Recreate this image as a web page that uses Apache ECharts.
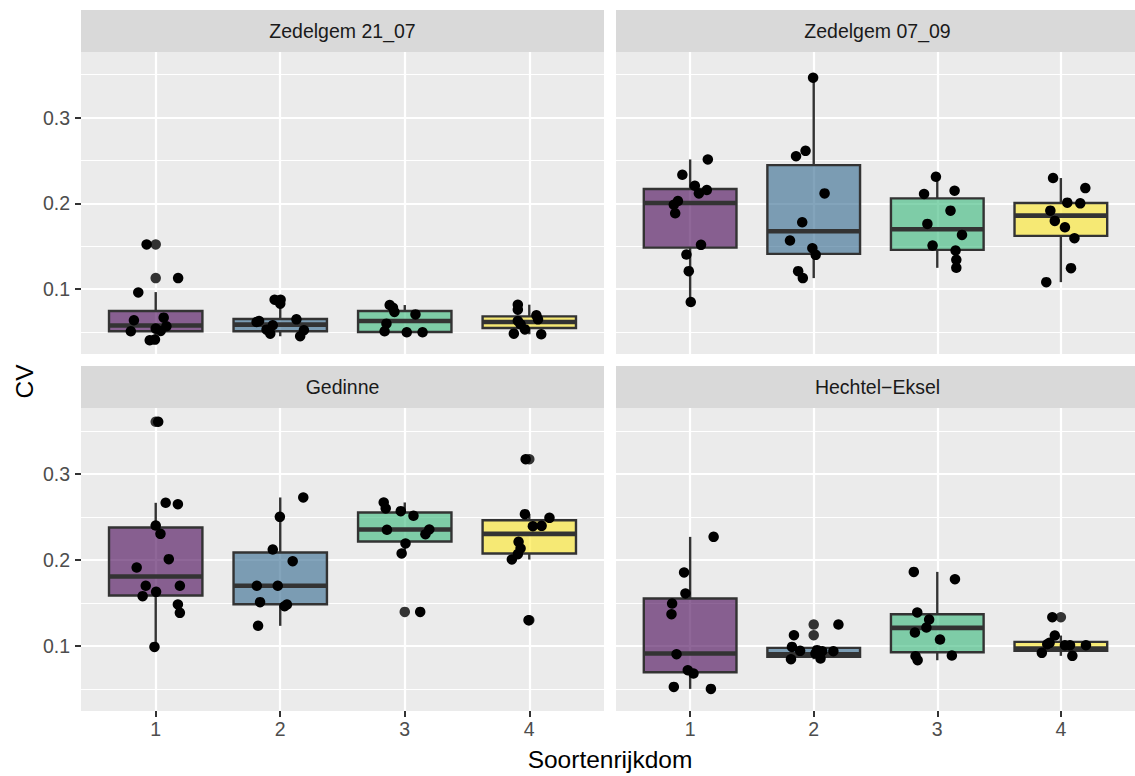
<!DOCTYPE html>
<html>
<head>
<meta charset="utf-8">
<title>CV per soortenrijkdom</title>
<script src="https://cdn.jsdelivr.net/npm/echarts@6/dist/echarts.min.js"></script>
<style>
  html, body { margin: 0; padding: 0; background: #ffffff; }
  #chart { width: 1135px; height: 776px; }
</style>
</head>
<body>
<div id="chart"></div>
<script>
// ---- data -------------------------------------------------------------
const categories = [1, 2, 3, 4];
const panelNames = ['Zedelgem 21_07', 'Zedelgem 07_09', 'Gedinne', 'Hechtel\u2212Eksel'];
const yTicks = [0.1, 0.2, 0.3];
const yMinorTicks = [0.05, 0.15, 0.25, 0.35];
const xTitle = 'Soortenrijkdom';
const yTitle = 'CV';

// box summaries per richness level: [lower whisker, Q1, median, Q3, upper whisker]
const boxZedelgem2107 = [
  [0.0403, 0.0508, 0.0575, 0.0744, 0.0965],
  [0.0450, 0.0508, 0.0585, 0.0651, 0.0876],
  [0.0496, 0.0500, 0.0628, 0.0744, 0.0814],
  [0.0473, 0.0547, 0.0616, 0.0682, 0.0818]
];
const boxZedelgem0709 = [
  [0.0849, 0.1484, 0.2004, 0.2167, 0.2512],
  [0.1128, 0.1411, 0.1674, 0.2446, 0.3465],
  [0.1248, 0.1457, 0.1698, 0.2058, 0.2310],
  [0.1081, 0.1620, 0.1857, 0.2004, 0.2295]
];
const boxGedinne = [
  [0.0988, 0.1585, 0.1806, 0.2376, 0.2663],
  [0.1233, 0.1484, 0.1698, 0.2085, 0.2725],
  [0.2074, 0.2213, 0.2353, 0.2550, 0.2667],
  [0.2004, 0.2074, 0.2302, 0.2461, 0.2531]
];
const boxHechtelEksel = [
  [0.0500, 0.0694, 0.0911, 0.1550, 0.2267],
  [0.0845, 0.0872, 0.0903, 0.0977, 0.0988],
  [0.0833, 0.0926, 0.1209, 0.1368, 0.1860],
  [0.0884, 0.0942, 0.0969, 0.1047, 0.1120]
];

// boxplot outliers: [richness, CV]
const outliersZedelgem2107 = [[1, 0.1520], [1, 0.1128]];
const outliersZedelgem0709 = [];
const outliersGedinne = [[1, 0.3605], [3, 0.1395], [4, 0.3170], [4, 0.1298]];
const outliersHechtelEksel = [[2, 0.1248], [2, 0.1124], [4, 0.1333]];

// jittered observations: [jittered richness, CV]
const pointsZedelgem2107 = [
  [0.927, 0.1520], [1.180, 0.1128], [0.860, 0.0961], [0.825, 0.0636], [1.064, 0.0667],
  [1.000, 0.0539], [1.086, 0.0566], [1.040, 0.0512], [0.800, 0.0508], [0.952, 0.0403],
  [0.994, 0.0411],
  [1.955, 0.0876], [2.003, 0.0876], [2.000, 0.0830], [1.810, 0.0616], [1.830, 0.0628],
  [1.940, 0.0578], [2.130, 0.0647], [1.890, 0.0527], [1.920, 0.0480], [2.190, 0.0520],
  [2.160, 0.0450],
  [2.879, 0.0814], [2.905, 0.0783], [2.917, 0.0733], [3.086, 0.0705], [2.853, 0.0597],
  [2.838, 0.0508], [3.016, 0.0496], [3.143, 0.0496],
  [3.908, 0.0818], [3.908, 0.0760], [4.057, 0.0694], [4.070, 0.0647], [3.908, 0.0628],
  [3.930, 0.0589], [3.965, 0.0530], [3.876, 0.0480], [4.096, 0.0473]
];
const pointsZedelgem0709 = [
  [1.143, 0.2512], [0.937, 0.2333], [1.038, 0.2205], [1.135, 0.2155], [1.071, 0.2116],
  [0.901, 0.2027], [0.868, 0.1984], [0.879, 0.1884], [1.088, 0.1516], [0.970, 0.1403],
  [0.989, 0.1209], [1.005, 0.0849],
  [1.995, 0.3465], [1.857, 0.2550], [1.934, 0.2612], [2.088, 0.2116], [1.907, 0.1779],
  [1.808, 0.1566], [1.989, 0.1477], [2.016, 0.1399], [1.874, 0.1209], [1.912, 0.1128],
  [2.989, 0.2310], [2.893, 0.2109], [3.140, 0.2147], [3.107, 0.1915], [2.920, 0.1760],
  [3.200, 0.1632], [2.962, 0.1508], [3.148, 0.1450], [3.154, 0.1341], [3.154, 0.1248],
  [3.937, 0.2295], [4.198, 0.2178], [4.052, 0.2008], [4.157, 0.2000], [3.915, 0.1915],
  [3.951, 0.1795], [4.033, 0.1721], [4.110, 0.1593], [4.082, 0.1244], [3.882, 0.1081]
];
const pointsGedinne = [
  [1.020, 0.3605], [1.080, 0.2663], [1.178, 0.2647], [1.000, 0.2399], [1.038, 0.2302],
  [1.105, 0.2008], [0.847, 0.1911], [0.920, 0.1698], [1.194, 0.1698], [1.003, 0.1628],
  [0.895, 0.1578], [1.178, 0.1481], [1.194, 0.1384], [0.990, 0.0988],
  [2.185, 0.2725], [1.997, 0.2500], [1.940, 0.2120], [2.100, 0.1984], [1.812, 0.1698],
  [1.980, 0.1698], [1.838, 0.1508], [2.035, 0.1461], [2.054, 0.1480], [1.822, 0.1233],
  [2.831, 0.2667], [2.847, 0.2597], [2.968, 0.2566], [3.070, 0.2512], [2.857, 0.2349],
  [3.197, 0.2353], [3.166, 0.2298], [3.006, 0.2190], [2.975, 0.2074], [3.124, 0.1395],
  [3.971, 0.3170], [3.965, 0.2531], [4.162, 0.2488], [4.029, 0.2391], [4.099, 0.2395],
  [3.914, 0.2209], [3.930, 0.2132], [3.908, 0.2066], [3.860, 0.2004], [3.994, 0.1298]
];
const pointsHechtelEksel = [
  [1.190, 0.2267], [0.951, 0.1853], [0.962, 0.1609], [0.854, 0.1492], [0.849, 0.1368],
  [0.890, 0.0903], [0.981, 0.0717], [1.027, 0.0678], [0.868, 0.0523], [1.168, 0.0500],
  [2.200, 0.1248], [1.840, 0.1124], [1.824, 0.0988], [1.890, 0.0942], [2.027, 0.0950],
  [2.069, 0.0938], [2.159, 0.0938], [1.816, 0.0845], [2.055, 0.0853], [2.014, 0.0911],
  [2.810, 0.1860], [3.143, 0.1775], [2.838, 0.1388], [2.934, 0.1306], [2.912, 0.1213],
  [2.819, 0.1155], [3.022, 0.1074], [2.824, 0.0880], [2.841, 0.0833], [3.118, 0.0888],
  [3.931, 0.1333], [3.951, 0.1120], [3.909, 0.1035], [3.890, 0.1019], [4.033, 0.1008],
  [4.074, 0.1008], [4.203, 0.1008], [3.846, 0.0919], [4.093, 0.0884]
];

// ---- layout & style ---------------------------------------------------
const panels = [
  { name: panelNames[0], boxes: boxZedelgem2107, points: pointsZedelgem2107, outliers: outliersZedelgem2107 },
  { name: panelNames[1], boxes: boxZedelgem0709, points: pointsZedelgem0709, outliers: outliersZedelgem0709 },
  { name: panelNames[2], boxes: boxGedinne, points: pointsGedinne, outliers: outliersGedinne },
  { name: panelNames[3], boxes: boxHechtelEksel, points: pointsHechtelEksel, outliers: outliersHechtelEksel }
];
const FONT = '"Liberation Sans", Arial, Helvetica, sans-serif';
const fills = ['rgba(68,1,84,0.6)', 'rgba(49,104,142,0.6)', 'rgba(53,183,121,0.6)', 'rgba(253,231,37,0.6)'];
const frames = [
  { left: 81, top: 52, width: 523, height: 302 },
  { left: 616, top: 52, width: 523, height: 302 },
  { left: 81, top: 408, width: 523, height: 303 },
  { left: 616, top: 408, width: 523, height: 303 }
];
const STRIP_H = 42;

// y range: data range expanded by 5% on both sides
const allY = [];
panels.forEach(p => {
  p.points.forEach(d => allY.push(d[1]));
  p.outliers.forEach(d => allY.push(d[1]));
});
const yLo = Math.min(...allY), yHi = Math.max(...allY);
const yPad = (yHi - yLo) * 0.05;
const Y_MIN = yLo - yPad, Y_MAX = yHi + yPad;
const X_MIN = 0.4, X_MAX = 4.6;

const grids = [], xAxes = [], yAxes = [], series = [], graphics = [];

panels.forEach((p, i) => {
  const f = frames[i];
  const isLeft = i % 2 === 0;
  const isBottom = i >= 2;
  grids.push({
    left: f.left, top: f.top, width: f.width, height: f.height,
    show: true, backgroundColor: '#EBEBEB', borderWidth: 0, containLabel: false
  });
  xAxes.push({
    type: 'value', gridIndex: i, min: X_MIN, max: X_MAX,
    axisLine: { show: false },
    axisTick: { show: isBottom, customValues: categories, length: 6, lineStyle: { color: '#333333', width: 2 } },
    axisLabel: {
      show: isBottom, customValues: categories, margin: 8,
      color: '#4D4D4D', fontSize: 19.5, fontFamily: FONT,
      formatter: v => String(Math.round(v))
    },
    splitLine: { show: true, lineStyle: { color: '#FFFFFF', width: 2.2 } }
  });
  // major y axis
  yAxes.push({
    type: 'value', gridIndex: i, min: Y_MIN, max: Y_MAX, position: 'left',
    axisLine: { show: false },
    axisTick: { show: isLeft, customValues: yTicks, length: 6, lineStyle: { color: '#333333', width: 2 } },
    axisLabel: {
      show: isLeft, customValues: yTicks, margin: 11,
      color: '#4D4D4D', fontSize: 19.5, fontFamily: FONT,
      formatter: v => v.toFixed(1)
    },
    splitLine: { show: true, lineStyle: { color: '#FFFFFF', width: 2.2 } }
  });
  // minor y grid lines
  yAxes.push({
    type: 'value', gridIndex: i, min: Y_MIN, max: Y_MAX, position: 'left',
    axisLine: { show: false },
    axisTick: { show: false, customValues: yMinorTicks },
    axisLabel: { show: false, customValues: yMinorTicks },
    splitLine: { show: true, lineStyle: { color: '#FFFFFF', width: 1.1 } }
  });

  const boxData = p.boxes.map((b, k) => [categories[k]].concat(b));
  series.push({
    type: 'custom', xAxisIndex: i, yAxisIndex: 2 * i, z: 2,
    data: boxData,
    encode: { x: 0, y: [1, 2, 3, 4, 5] },
    renderItem: (params, api) => {
      const x = api.value(0);
      const lo = api.value(1), q1 = api.value(2), med = api.value(3), q3 = api.value(4), hi = api.value(5);
      const half = 0.375;
      const tl = api.coord([x - half, q3]);
      const br = api.coord([x + half, q1]);
      const m = api.coord([x, med]);
      const pLo = api.coord([x, lo]);
      const pHi = api.coord([x, hi]);
      const stroke = '#333333';
      return {
        type: 'group',
        children: [
          { type: 'line', shape: { x1: pHi[0], y1: pHi[1], x2: pHi[0], y2: tl[1] }, style: { stroke, lineWidth: 2.4 } },
          { type: 'line', shape: { x1: pLo[0], y1: br[1], x2: pLo[0], y2: pLo[1] }, style: { stroke, lineWidth: 2.4 } },
          { type: 'rect', shape: { x: tl[0], y: tl[1], width: br[0] - tl[0], height: br[1] - tl[1] },
            style: { fill: fills[params.dataIndex], stroke, lineWidth: 2.4 } },
          { type: 'line', shape: { x1: tl[0], y1: m[1], x2: br[0], y2: m[1] }, style: { stroke, lineWidth: 4.6 } }
        ]
      };
    }
  });
  series.push({
    type: 'scatter', xAxisIndex: i, yAxisIndex: 2 * i, z: 3,
    data: p.outliers, symbolSize: 10.5,
    itemStyle: { color: '#333333', opacity: 1 }, silent: true
  });
  series.push({
    type: 'scatter', xAxisIndex: i, yAxisIndex: 2 * i, z: 4,
    data: p.points, symbolSize: 10.5,
    itemStyle: { color: '#000000', opacity: 1 }, silent: true
  });

  // facet strip
  graphics.push({
    type: 'rect', left: f.left, top: f.top - STRIP_H,
    shape: { width: f.width, height: STRIP_H },
    style: { fill: '#D9D9D9' }, silent: true
  });
  graphics.push({
    type: 'text', x: f.left + f.width / 2, y: f.top - STRIP_H / 2,
    style: {
      text: p.name, fill: '#1A1A1A', font: '19.5px ' + FONT,
      textAlign: 'center', textVerticalAlign: 'middle'
    }, silent: true
  });
});

// axis titles
graphics.push({
  type: 'text', x: (frames[0].left + frames[1].left + frames[1].width) / 2, y: 759,
  style: { text: xTitle, fill: '#000000', font: '24.5px ' + FONT, textAlign: 'center', textVerticalAlign: 'middle' },
  silent: true
});
graphics.push({
  type: 'text', x: 24, y: (frames[0].top + frames[2].top + frames[2].height) / 2, rotation: Math.PI / 2,
  style: { text: yTitle, fill: '#000000', font: '24.5px ' + FONT, textAlign: 'center', textVerticalAlign: 'middle' },
  silent: true
});

const chart = echarts.init(document.getElementById('chart'), null, { renderer: 'svg' });
chart.setOption({
  backgroundColor: '#FFFFFF',
  animation: false,
  grid: grids,
  xAxis: xAxes,
  yAxis: yAxes,
  series: series,
  graphic: { elements: graphics }
});
</script>
</body>
</html>
